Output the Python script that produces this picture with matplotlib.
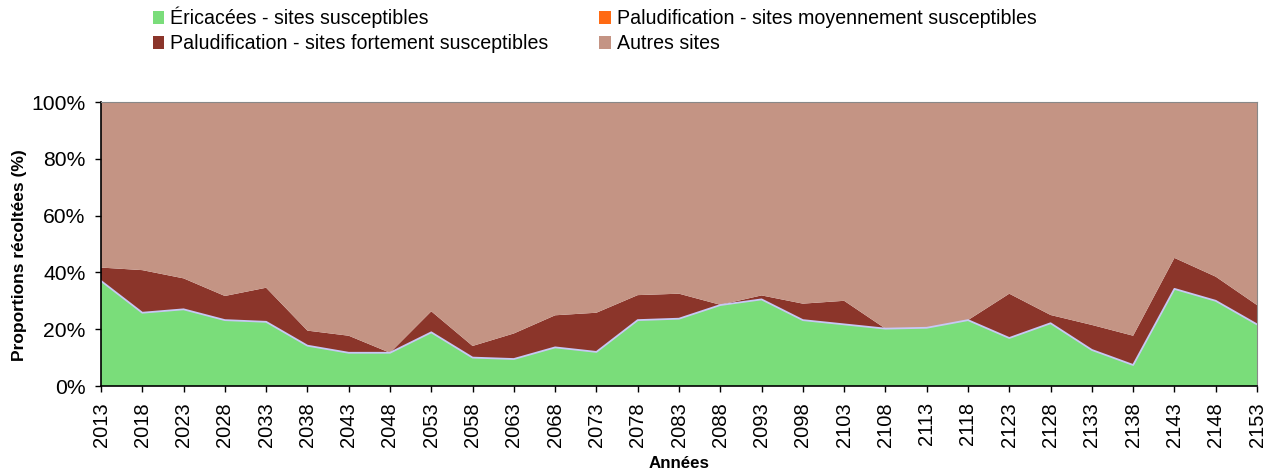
import matplotlib
matplotlib.use("Agg")
import matplotlib.pyplot as plt
from matplotlib.patches import Patch
import numpy as np

years = list(range(2013, 2154, 5))
ericacees = [37.0, 25.8, 27.0, 23.2, 22.6, 14.2, 11.7, 11.7, 18.9, 10.0,
             9.5, 13.6, 12.0, 23.2, 23.7, 28.5, 30.5, 23.2, 21.7, 20.2,
             20.5, 23.2, 16.9, 22.1, 12.7, 7.4, 34.2, 30.0, 21.7]
palu_moy = [0.0] * 29
palu_fort_top = [41.7, 40.8, 37.9, 31.7, 34.6, 19.5, 17.7, 11.7, 26.3, 14.1,
                 18.5, 24.9, 25.8, 32.0, 32.5, 28.6, 31.9, 29.0, 30.0, 20.2,
                 20.5, 23.2, 32.5, 25.0, 21.5, 17.7, 45.1, 38.5, 28.5]
palu_fort = [t - e for t, e in zip(palu_fort_top, ericacees)]
autres = [100 - t for t in palu_fort_top]

labels = ["Éricacées - sites susceptibles",
          "Paludification - sites moyennement susceptibles",
          "Paludification - sites fortement susceptibles",
          "Autres sites"]
colors = ["#7ADD7A", "#FF6A13", "#8B352A", "#C49484"]

plt.rcParams['font.family'] = ['Liberation Sans', 'DejaVu Sans']

fig = plt.figure(figsize=(12.69, 4.73), dpi=100)
ax = fig.add_axes([101/1269, 1-386/473, (1257-101)/1269, (386-102)/473])

x = np.arange(len(years))
ax.stackplot(x, ericacees, palu_moy, palu_fort, autres, colors=colors, linewidth=0)
ax.plot(x, ericacees, color="#C8C8F5", linewidth=1.3)

ax.set_xlim(0, len(years)-1)
ax.set_ylim(0, 100)
ax.set_yticks([0, 20, 40, 60, 80, 100])
ax.set_yticklabels(["0%", "20%", "40%", "60%", "80%", "100%"], fontsize=15.2)
ax.set_xticks(x)
ax.set_xticklabels([str(y) for y in years], rotation=90, fontsize=14.5)
ax.tick_params(axis='both', direction='out', length=4.5, width=1, color='black')
ax.tick_params(axis='x', pad=7)
ax.tick_params(axis='y', pad=6.5)

for s in ['top', 'right']:
    ax.spines[s].set_color('#888888')
for s in ['left', 'bottom']:
    ax.spines[s].set_color('black')
    ax.spines[s].set_linewidth(1.2)

ax.set_ylabel("Proportions récoltées (%)", fontsize=12.5, fontweight='bold')
ax.yaxis.set_label_coords(-0.064, 0.461)
ax.set_xlabel("Années", fontsize=12.2, fontweight='bold', labelpad=7)

handles = [Patch(facecolor=c, edgecolor='none') for c in colors]
order = [0, 2, 1, 3]
fig.legend([handles[i] for i in order], [labels[i] for i in order],
           loc='upper left', bbox_to_anchor=(145.7/1269, 1.0), ncol=2,
           frameon=False, fontsize=14.1, handlelength=0.6, handleheight=0.6,
           handletextpad=0.29, columnspacing=2.6, labelspacing=0.3,
           borderaxespad=0.25, borderpad=0.1)

fig.savefig("out.png", dpi=100)
